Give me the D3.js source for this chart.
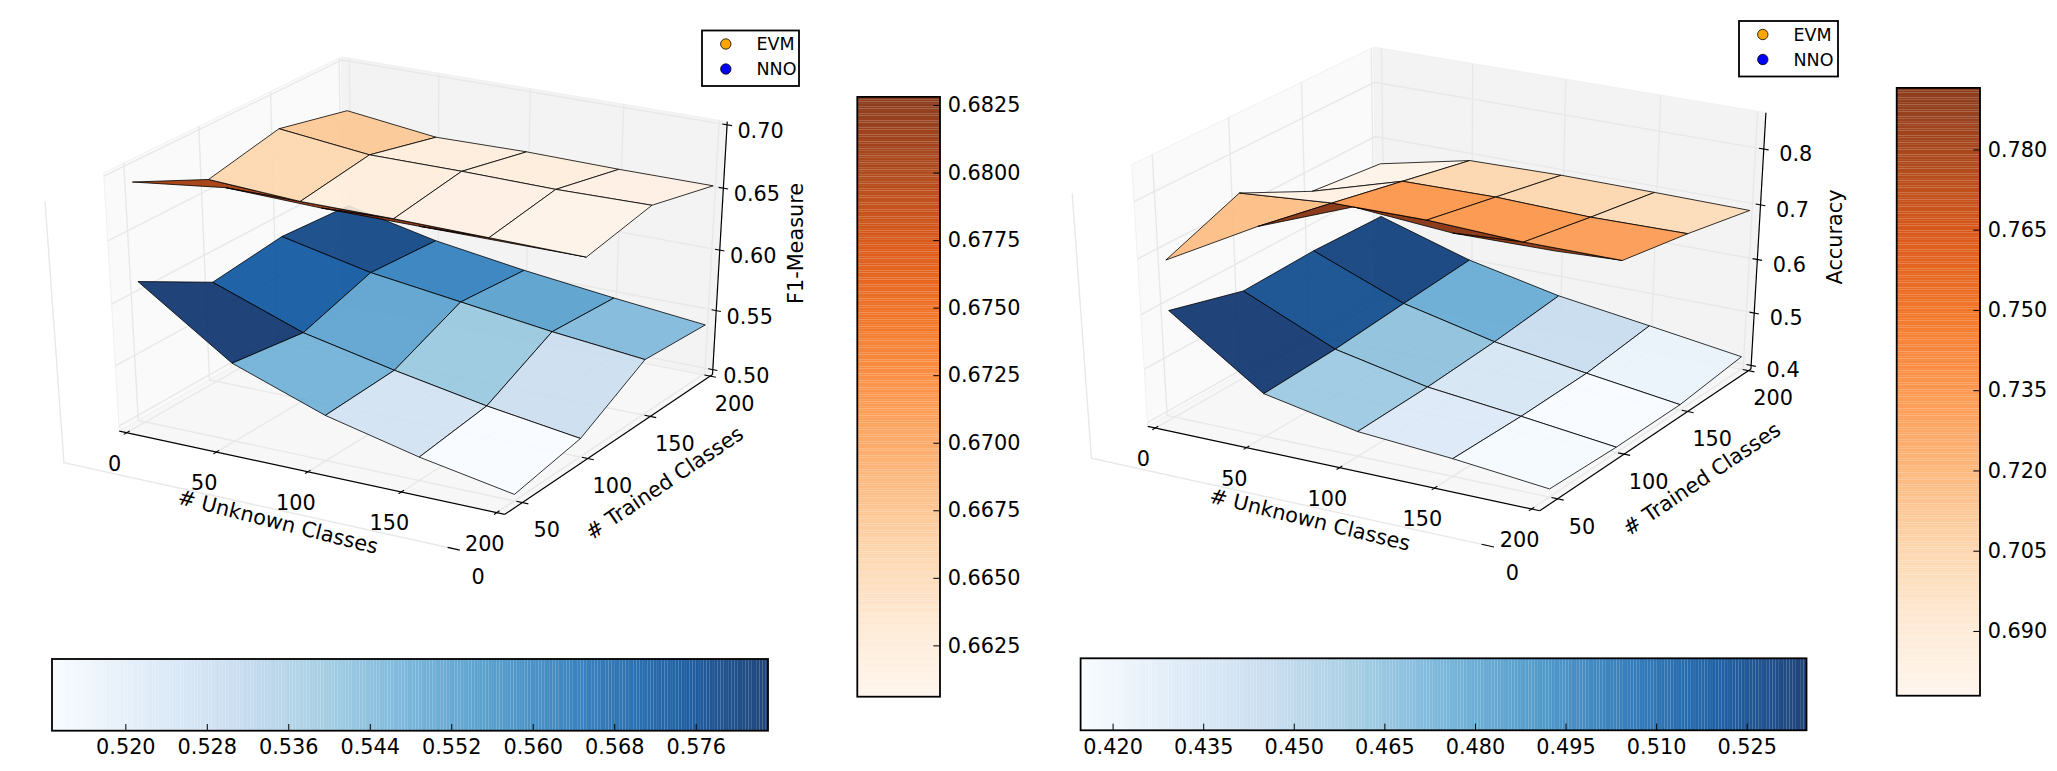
<!DOCTYPE html>
<html><head><meta charset="utf-8"><script src="https://cdn.jsdelivr.net/npm/d3@7"></script>
<style>html,body{margin:0;background:#fff}svg{display:block}text{font-family:"DejaVu Sans",sans-serif;fill:#000}</style></head>
<body><svg id="chart" width="2057" height="771"></svg>
<script>
const unknownClasses=[0,50,100,150,200];
const trainedClasses=[50,100,150,200];
const gridUnknownTicks=[0,50,100,150,200];
const gridTrainedTicks=[0,50,100,150,200];
const f1Ticks=[0.50,0.55,0.60,0.65,0.70];
const accTicks=[0.4,0.5,0.6,0.7,0.8];
const legendNames=["EVM","NNO"];
const legendColors=["#ffa500","#0000ff"];
// surface heights: rows = trained classes, columns = unknown classes
const nnoF1=[[.611,.560,.533,.515,.501],[.579,.552,.536,.522,.511],[.586,.570,.560,.550,.542],[.582,.566,.555,.546,.538]];
const evmF1=[[.689,.698,.696,.696,.696],[.662,.658,.658,.657,.656],[.674,.666,.666,.665,.666],[.661,.652,.653,.652,.652]];
const nnoAcc=[[.591,.473,.439,.426,.408],[.554,.479,.443,.424,.403],[.558,.491,.452,.427,.403],[.554,.502,.466,.442,.417]];
const evmAcc=[[.682,.773,.838,.825,.827],[.733,.746,.747,.740,.740],[.669,.718,.720,.715,.717],[.654,.690,.693,.692,.690]];
// facet values as read on each colour bar
const nnoF1Cells=[[.5831,.548,.527,.5128],[.574,.5525,.5405,.529],[.579,.5625,.553,.545]];
const evmF1Cells=[[.6805,.6815,.6825,.6825],[.6655,.662,.6615,.661],[.667,.662,.662,.6615]];
const nnoAccCells=[[.5349,.4615,.4325,.417],[.525,.466,.4365,.4147],[.531,.478,.4445,.4225]];
const evmAccCells=[[.715,.7915,.79,.789],[.683,.733,.733,.73],[.68,.703,.703,.70]];
// colour bar ranges and ticks
const f1BlueRange=[.5128,.5831], f1BlueTicks=[.520,.528,.536,.544,.552,.560,.568,.576];
const f1OrangeRange=[.6606,.6828], f1OrangeTicks=[.6625,.665,.6675,.67,.6725,.675,.6775,.68,.6825];
const accBlueRange=[.4147,.5349], accBlueTicks=[.420,.435,.450,.465,.480,.495,.510,.525];
const accOrangeRange=[.6779,.7915], accOrangeTicks=[.69,.705,.72,.735,.75,.765,.78];

const svg=d3.select("#chart");
const lineGen=d3.line();
const FS=20.8, ALPHA=.9;
function cmap(scheme,dom){
  const t=d3.scaleLinear().domain(dom).range([0,1]).clamp(true);
  const m=d3.scaleLinear().domain(d3.range(9).map(i=>i/8)).range(scheme).interpolate(d3.interpolateRgb);
  return v=>m(t(v));
}
function projector(o){
  const nx=d3.scaleLinear().domain(o.xlim).range([-.5,.5]),ny=d3.scaleLinear().domain(o.ylim).range([-.5,.5]),nz=d3.scaleLinear().domain(o.zlim).range([-.5,.5]);
  const el=30*Math.PI/180,az=-60*Math.PI/180,dist=10;
  const n=[Math.cos(el)*Math.cos(az),Math.cos(el)*Math.sin(az),Math.sin(el)];
  const u=[-n[1],n[0],0].map(v=>v/Math.hypot(n[0],n[1]));
  const v=[n[1]*u[2]-n[2]*u[1],n[2]*u[0]-n[0]*u[2],n[0]*u[1]-n[1]*u[0]];
  const dot=(a,b)=>a[0]*b[0]+a[1]*b[1]+a[2]*b[2];
  const sx=d3.scaleLinear().domain([0,1]).range([o.cx,o.cx+o.sx]),sy=d3.scaleLinear().domain([0,1]).range([o.cy,o.cy-o.sy]);
  const p=(x,y,z)=>{const q=[nx(x),ny(y),nz(z)],w=dist-dot(n,q);return [sx(dot(u,q)/w),sy(dot(v,q)/w),w];};
  p.xlim=o.xlim;p.ylim=o.ylim;p.zlim=o.zlim;return p;
}
function drawAxes3D(g,p,c){
  const [x0,x1]=p.xlim,[y0,y1]=p.ylim,[z0,z1]=p.zlim;
  const path=pts=>lineGen(pts.map(a=>p(...a).slice(0,2)));
  const panes=[
    {d:[[x0,y0,z0],[x0,y1,z0],[x0,y1,z1],[x0,y0,z1]],f:"#fafafa"},
    {d:[[x0,y1,z0],[x1,y1,z0],[x1,y1,z1],[x0,y1,z1]],f:"#f3f3f3"},
    {d:[[x0,y0,z0],[x1,y0,z0],[x1,y1,z0],[x0,y1,z0]],f:"#f7f7f7"}];
  g.selectAll("path.pane").data(panes).join("path").attr("class","pane").attr("d",d=>path(d.d)+"Z").attr("fill",d=>d.f).attr("stroke","#f1f1f1").attr("stroke-width",1);
  const gridPaths=[
    ...gridUnknownTicks.map(x=>[[x,y1,z1],[x,y1,z0],[x,y0,z0]]),
    ...gridTrainedTicks.map(y=>[[x0,y,z1],[x0,y,z0],[x1,y,z0]]),
    ...c.zTicks.map(z=>[[x0,y0,z],[x0,y1,z],[x1,y1,z]])];
  g.selectAll("path.grid").data(gridPaths).join("path").attr("class","grid").attr("d",path).attr("fill","none").attr("stroke","#e8e8e8").attr("stroke-width",1.4);
  const axisPaths=[[[x0,y0,z0],[x1,y0,z0]],[[x1,y0,z0],[x1,y1,z0]],[[x1,y1,z0],[x1,y1,z1]]];
  g.selectAll("path.axis").data(axisPaths).join("path").attr("class","axis").attr("d",path).attr("fill","none").attr("stroke","#000").attr("stroke-width",1.2);
  const dy=(y1-y0)*.012,dx=(x1-x0)*.015,dxz=(x1-x0)*.012;
  const tickPaths=[
    ...gridUnknownTicks.map(x=>[[x,y0-dy,z0],[x,y0+dy,z0]]),
    ...gridTrainedTicks.map(y=>[[x1-dx,y,z0],[x1+dx,y,z0]]),
    ...c.zTicks.map(z=>[[x1-dxz,y1,z],[x1+dxz,y1,z]])];
  g.selectAll("path.tick").data(tickPaths).join("path").attr("class","tick").attr("d",path).attr("fill","none").attr("stroke","#000").attr("stroke-width",1.1);
  const labs=[
    ...gridUnknownTicks.map(x=>({t:String(x),p:p(x,y0,z0),o:[-12,31]})),
    ...gridTrainedTicks.map(y=>({t:String(y),p:p(x1,y,z0),o:[24.5,27.8]})),
    ...c.zTicks.map(z=>({t:c.zFmt(z),p:p(x1,y1,z),o:c.zOff}))];
  g.selectAll("text.tl").data(labs).join("text").attr("class","tl").attr("x",d=>d.p[0]+d.o[0]).attr("y",d=>d.p[1]+d.o[1]).attr("text-anchor","middle").attr("dominant-baseline","central").attr("font-size",FS).text(d=>d.t);
  c.titles.forEach(t=>g.append("text").attr("transform",`translate(${t.x},${t.y}) rotate(${t.r})`).attr("text-anchor","middle").attr("dominant-baseline","central").attr("font-size",FS).text(t.t));
}
function drawSurface(g,p,Z,cells,color,frontRowUnder){
  const facets=[];
  trainedClasses.slice(0,-1).forEach((yv,j)=>unknownClasses.slice(0,-1).forEach((xv,i)=>{
    const pts=[[i,j],[i+1,j],[i+1,j+1],[i,j+1]].map(([a,b])=>p(unknownClasses[a],trainedClasses[b],Z[b][a]));
    facets.push({pts,j,depth:d3.mean(pts,q=>q[2]),v:cells[j][i]});
  }));
  facets.sort((a,b)=>frontRowUnder&&(a.j===0)!==(b.j===0)?(a.j===0?-1:1):b.depth-a.depth);
  g.append("g").selectAll("path").data(facets).join("path")
    .attr("d",d=>lineGen(d.pts.map(q=>q.slice(0,2)))+"Z").attr("fill",d=>color(d.v)).attr("fill-opacity",ALPHA)
    .attr("stroke","#000").attr("stroke-width",.8).attr("stroke-linejoin","round");
}
function colorBar(g,o){
  const color=cmap(o.scheme,o.range);
  const N=256, vals=d3.range(N).map(i=>o.range[0]+(o.range[1]-o.range[0])*(i+.5)/N);
  const vert=o.orient==="v";
  const scale=d3.scaleLinear().domain(o.range).range(vert?[o.y1,o.y0]:[o.x0,o.x1]);
  const step=(vert?o.y1-o.y0:o.x1-o.x0)/N;
  g.selectAll("rect.band").data(vals).join("rect").attr("class","band")
    .attr("x",d=>vert?o.x0:scale(d)-step/2).attr("y",d=>vert?scale(d)-step/2:o.y0)
    .attr("width",vert?o.x1-o.x0:step).attr("height",vert?step:o.y1-o.y0)
    .attr("fill",color).attr("fill-opacity",ALPHA);
  const axis=(vert?d3.axisRight(scale):d3.axisBottom(scale)).tickValues(o.ticks).tickFormat(d3.format(o.fmt)).tickSize(-6.7).tickPadding(vert?7.7:8.5);
  const ag=g.append("g").attr("transform",vert?`translate(${o.x1},0)`:`translate(0,${o.y1})`).call(axis);
  ag.select(".domain").remove();
  ag.selectAll("text").attr("font-size",FS).attr("font-family",'"DejaVu Sans",sans-serif').attr("fill","#000");
  ag.selectAll("line").attr("stroke","#000").attr("stroke-width",1);
  g.append("rect").attr("x",o.x0).attr("y",o.y0).attr("width",o.x1-o.x0).attr("height",o.y1-o.y0).attr("fill","none").attr("stroke","#000").attr("stroke-width",1.8);
}
function legend(g,o){
  g.append("rect").attr("x",o.x0).attr("y",o.y0).attr("width",o.w).attr("height",o.h).attr("fill","#fff").attr("stroke","#000").attr("stroke-width",1.8);
  const rows=g.selectAll("g.row").data(legendNames).join("g").attr("class","row").attr("transform",(d,i)=>`translate(0,${o.y0+13.5+i*25})`);
  rows.append("circle").attr("cx",o.x0+23.8).attr("r",5.2).attr("fill",(d,i)=>legendColors[i]).attr("stroke","#000").attr("stroke-width",.8);
  rows.append("text").attr("x",o.x0+54.5).attr("dominant-baseline","central").attr("font-size",17.5).text(d=>d);
}
const xlim=[-4.17,204.17], ylim=[37,202];
const pLeft=projector({xlim,ylim,zlim:[.4957,.7025],sx:4450,sy:2950,cx:420.5,cy:277.8});
const pRight=projector({xlim,ylim,zlim:[.393,.864],sx:4525,sy:2990,cx:1454,cy:271});
const gL=svg.append("g"), gR=svg.append("g");
drawAxes3D(gL,pLeft,{zTicks:f1Ticks,zFmt:d3.format(".2f"),zOff:[33.5,6],titles:[
  {t:"# Unknown Classes",x:278,y:522,r:14.2},{t:"# Trained Classes",x:664.5,y:483,r:-34},{t:"F1-Measure",x:796,y:243.5,r:-90}]});
drawSurface(gL,pLeft,nnoF1,nnoF1Cells,cmap(d3.schemeBlues[9],f1BlueRange),false);
drawSurface(gL,pLeft,evmF1,evmF1Cells,cmap(d3.schemeOranges[9],f1OrangeRange),true);
legend(gL.append("g"),{x0:702,y0:30.5,w:97,h:55.5});
drawAxes3D(gR,pRight,{zTicks:accTicks,zFmt:d3.format(".1f"),zOff:[32,5],titles:[
  {t:"# Unknown Classes",x:1310,y:519.7,r:13.7},{t:"# Trained Classes",x:1701.7,y:479,r:-34},{t:"Accuracy",x:1835,y:237,r:-90}]});
drawSurface(gR,pRight,nnoAcc,nnoAccCells,cmap(d3.schemeBlues[9],accBlueRange),false);
drawSurface(gR,pRight,evmAcc,evmAccCells,cmap(d3.schemeOranges[9],accOrangeRange),true);
legend(gR.append("g"),{x0:1739,y0:21,w:99,h:55.5});
colorBar(gL.append("g"),{orient:"h",x0:52,x1:768,y0:659,y1:730.7,range:f1BlueRange,ticks:f1BlueTicks,scheme:d3.schemeBlues[9],fmt:".3f"});
colorBar(gL.append("g"),{orient:"v",x0:857.3,x1:940,y0:96.9,y1:696.7,range:f1OrangeRange,ticks:f1OrangeTicks,scheme:d3.schemeOranges[9],fmt:".4f"});
colorBar(gR.append("g"),{orient:"h",x0:1080.6,x1:1806.5,y0:658.3,y1:730.3,range:accBlueRange,ticks:accBlueTicks,scheme:d3.schemeBlues[9],fmt:".3f"});
colorBar(gR.append("g"),{orient:"v",x0:1896.7,x1:1980,y0:87.9,y1:695.7,range:accOrangeRange,ticks:accOrangeTicks,scheme:d3.schemeOranges[9],fmt:".3f"});
</script></body></html>
